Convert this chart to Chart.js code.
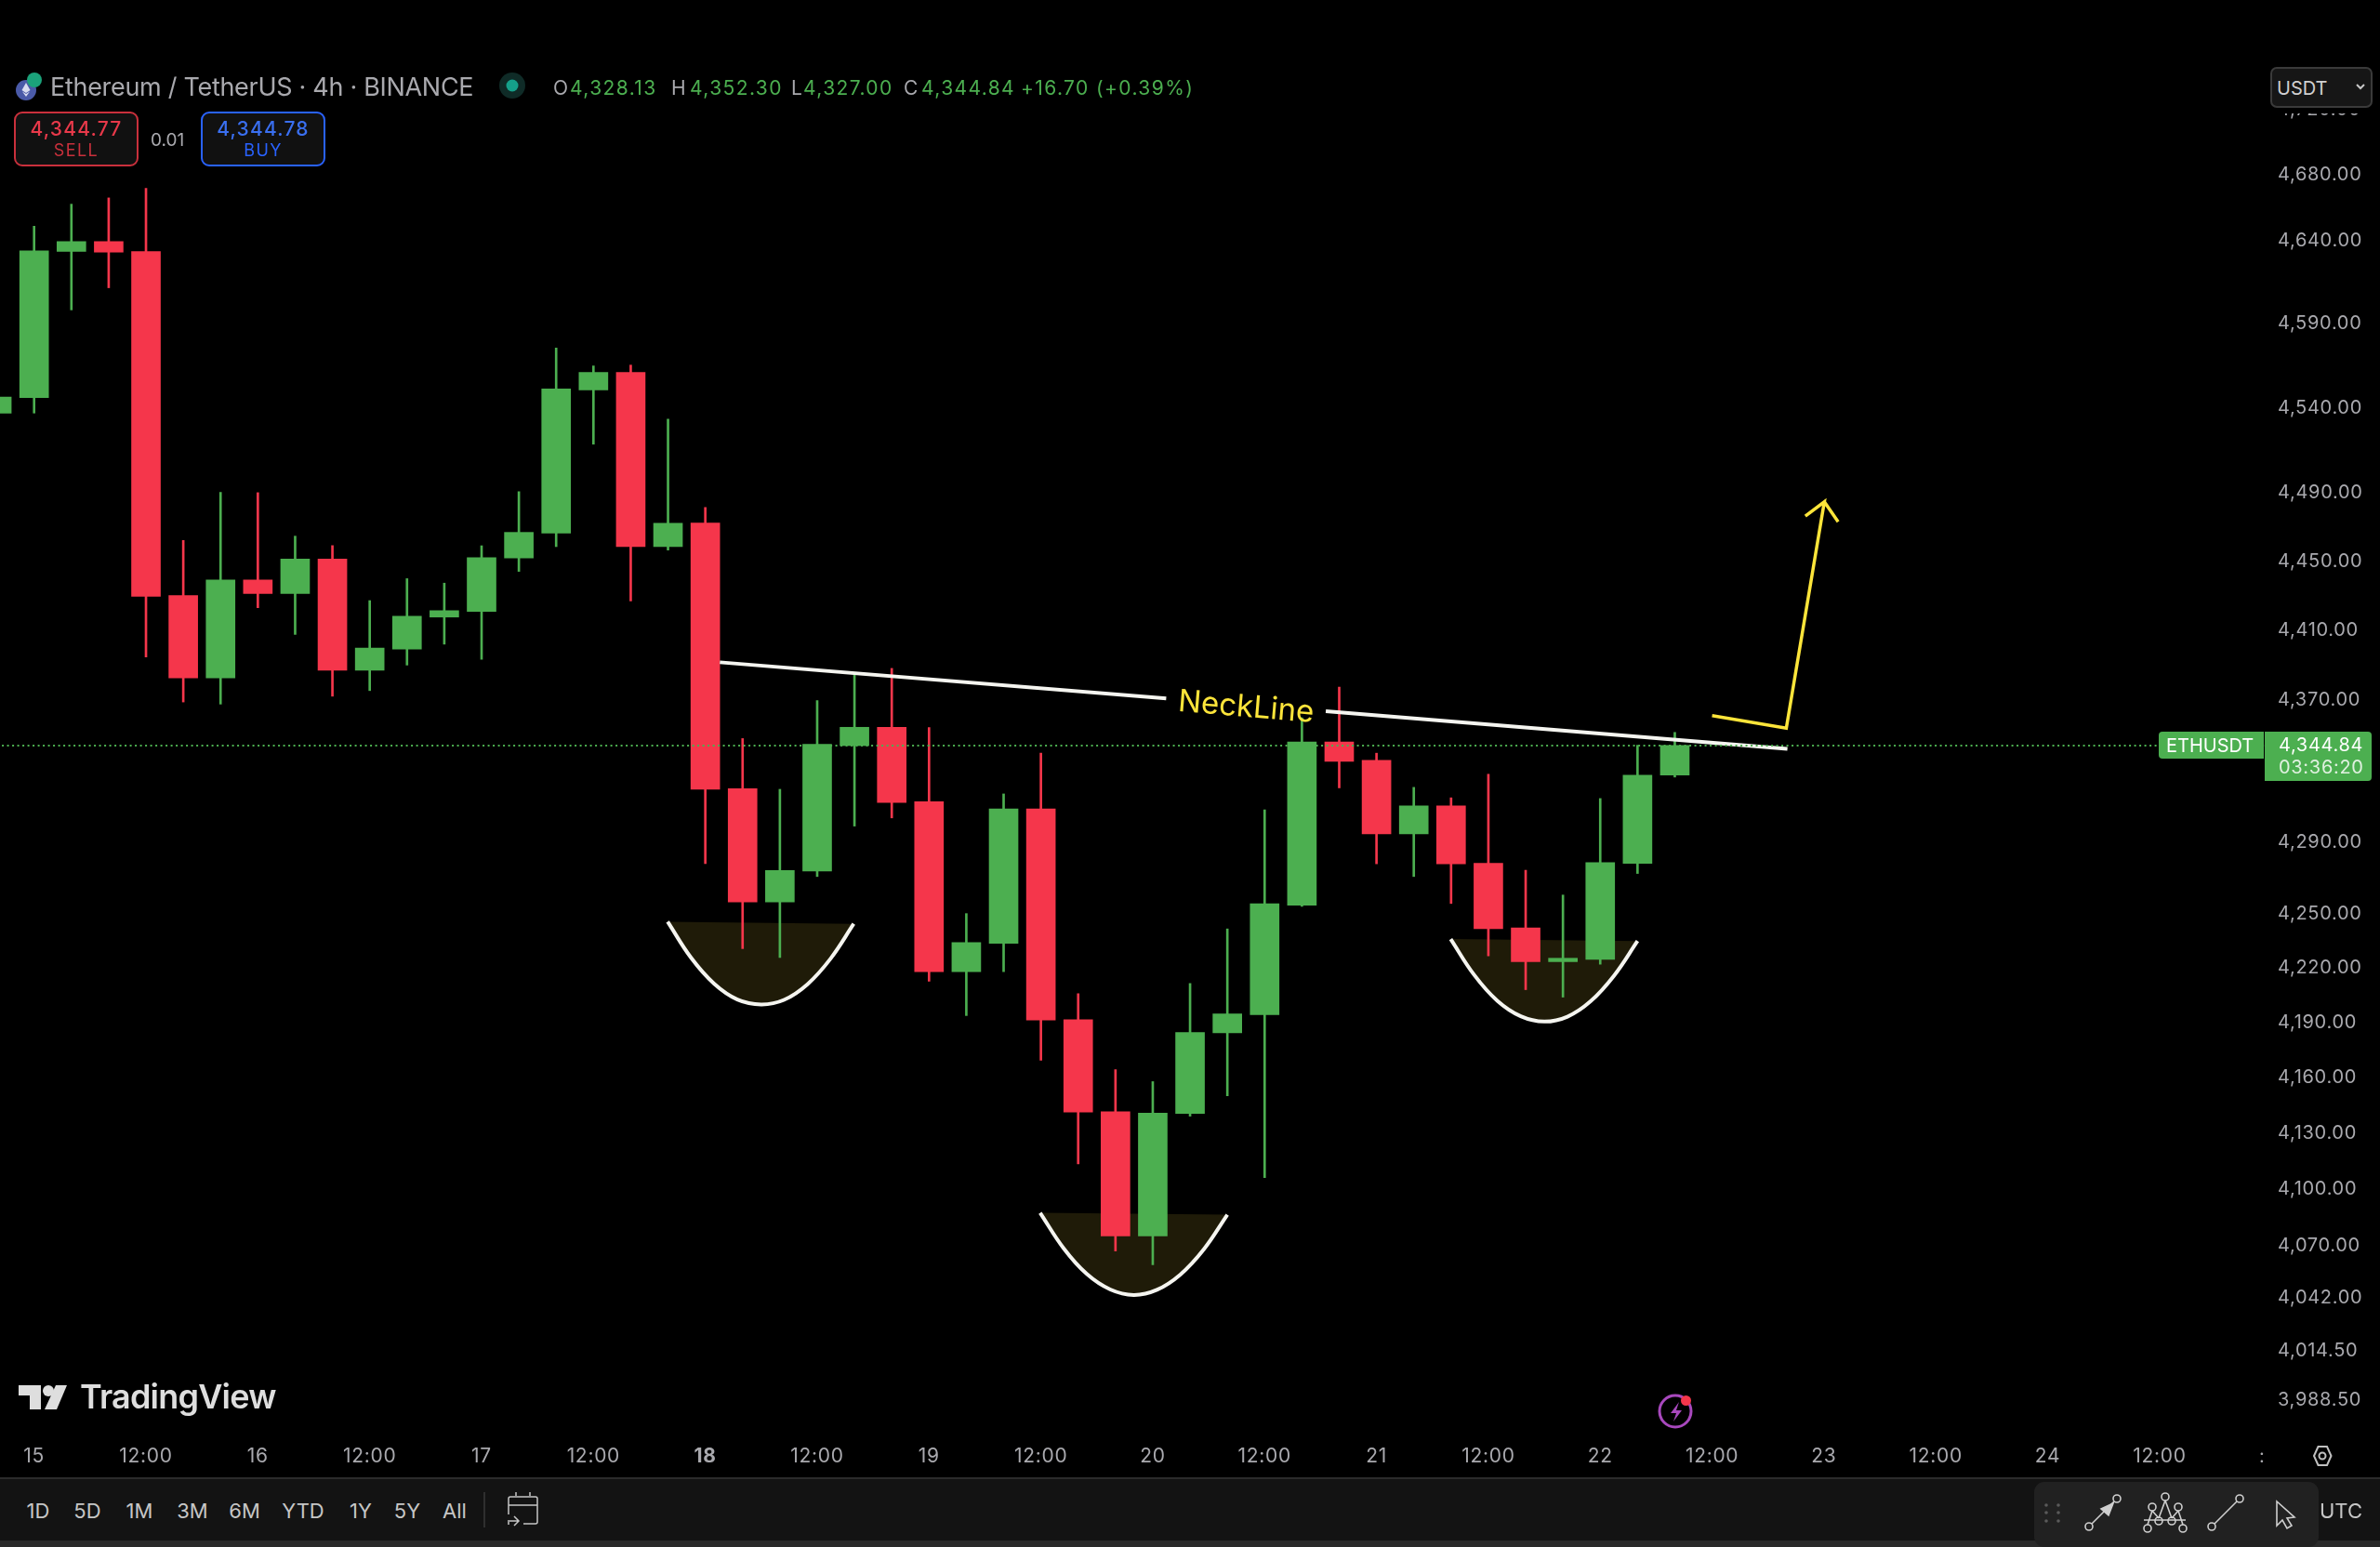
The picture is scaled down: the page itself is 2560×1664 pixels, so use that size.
<!DOCTYPE html>
<html>
<head>
<meta charset="utf-8">
<title>ETHUSDT 4h</title>
<script src="https://cdn.jsdelivr.net/npm/chart.js@4/dist/chart.umd.min.js"></script>
<style>
    html, body { margin: 0; padding: 0; background: #000; }
    #page { position: relative; width: 2560px; height: 1664px; overflow: hidden; font-family: Inter, sans-serif; }
    #chart { position: absolute; left: 0; top: 0; }
    .t { position: absolute; white-space: nowrap; line-height: 1; }
    .gr { color: #4caf50; letter-spacing: 1.4px; }
    .gy { color: #a9a9ae; }
    .box { position: absolute; box-sizing: border-box; }
    .range { position: absolute; top: 1614px; font-size: 22px; color: #c6c6c6; transform: translateX(-50%); line-height: 1; }
    #icons { position: absolute; left: 0; top: 0; }
</style>
</head>
<body>
<div id="page">
    <canvas id="chart" width="2560" height="1589"></canvas>

    <!-- header -->
    <div class="t gy" style="left:54px;top:80px;font-size:27px;letter-spacing:-0.3px">Ethereum / TetherUS · 4h · BINANCE</div>
    <div class="t gy" style="left:595px;top:84px;font-size:21px">O</div>
    <div class="t gr" style="left:613px;top:84px;font-size:21px">4,328.13</div>
    <div class="t gy" style="left:722px;top:84px;font-size:21px">H</div>
    <div class="t gr" style="left:742px;top:84px;font-size:21px">4,352.30</div>
    <div class="t gy" style="left:851px;top:84px;font-size:21px">L</div>
    <div class="t gr" style="left:864px;top:84px;font-size:21px">4,327.00</div>
    <div class="t gy" style="left:972px;top:84px;font-size:21px">C</div>
    <div class="t gr" style="left:991px;top:84px;font-size:21px">4,344.84</div>
    <div class="t gr" style="left:1098px;top:84px;font-size:21px">+16.70 (+0.39%)</div>

    <!-- sell / buy -->
    <div class="box" style="left:15px;top:120px;width:134px;height:59px;border:2px solid #c9303c;border-radius:9px;background:#111"></div>
    <div class="t" style="left:15px;width:134px;text-align:center;top:128px;font-size:21px;font-weight:500;letter-spacing:1.2px;color:#e8394a">4,344.77</div>
    <div class="t" style="left:15px;width:134px;text-align:center;top:153px;font-size:18px;letter-spacing:1.4px;color:#c9303c">SELL</div>
    <div class="t gy" style="left:162px;top:141px;font-size:19px">0.01</div>
    <div class="box" style="left:216px;top:120px;width:134px;height:59px;border:2px solid #2962ff;border-radius:9px;background:#111"></div>
    <div class="t" style="left:216px;width:134px;text-align:center;top:128px;font-size:21px;font-weight:500;letter-spacing:1.2px;color:#3a6ff0">4,344.78</div>
    <div class="t" style="left:216px;width:134px;text-align:center;top:153px;font-size:18px;letter-spacing:1.4px;color:#2962ff">BUY</div>

    <!-- currency -->
    <div class="box" style="left:2441px;top:60px;width:119px;height:62px;background:#000"></div>
    <div class="box" style="left:2442px;top:72px;width:110px;height:44px;background:#161616;border:2px solid #3a3a3a;border-radius:7px"></div>
    <div class="t" style="left:2449px;top:85px;font-size:20px;color:#d0d0d0">USDT</div>
    <svg style="position:absolute;left:2532px;top:88px" width="14" height="12" fill="none"><path d="M3 3l4 4 4-4" stroke="#c8c8c8" stroke-width="2"/></svg>

    <!-- last price labels -->
    <div class="box" style="left:2322px;top:787px;width:113px;height:29px;background:#4caf50;border-radius:4px 0 0 4px"></div>
    <div class="t" style="left:2330px;top:792px;font-size:20px;color:#fff">ETHUSDT</div>
    <div class="box" style="left:2436px;top:787px;width:115px;height:53px;background:#4caf50;border-radius:0 4px 4px 0"></div>
    <div class="t" style="left:2451px;top:791px;font-size:20px;letter-spacing:0.7px;color:#fff">4,344.84</div>
    <div class="t" style="left:2451px;top:815px;font-size:20px;letter-spacing:0.7px;color:#dff0df">03:36:20</div>

    <!-- logo, clipped time label -->
    <div class="t" style="left:86px;top:1484px;font-size:36px;font-weight:600;letter-spacing:-0.8px;color:#dedede">TradingView</div>
    <div class="t gy" style="left:2430px;top:1556px;font-size:20px">:</div>

    <!-- bottom toolbar -->
    <div class="box" style="left:0;top:1589px;width:2560px;height:68px;background:#131313;border-top:2px solid #2b2b2b"></div>
    <div class="box" style="left:0;top:1657px;width:2560px;height:7px;background:#2a2a2a"></div>
    <div class="box" style="left:2188px;top:1594px;width:306px;height:70px;background:#212121;border-radius:11px"></div>
    <div class="range" style="left:41px">1D</div>
    <div class="range" style="left:94px">5D</div>
    <div class="range" style="left:150px">1M</div>
    <div class="range" style="left:207px">3M</div>
    <div class="range" style="left:263px">6M</div>
    <div class="range" style="left:326px">YTD</div>
    <div class="range" style="left:388px">1Y</div>
    <div class="range" style="left:438px">5Y</div>
    <div class="range" style="left:489px">All</div>
    <div class="t" style="left:2495px;top:1614px;font-size:22px;color:#c6c6c6">UTC</div>

    <svg id="icons" width="2560" height="1664" fill="none">
        <!-- symbol logo -->
        <circle cx="28" cy="97" r="11" fill="#4a5aa8"/>
        <path d="M28 89l-4.500 8 4.500 3 4.500-3zM28 101l-4-2.500 4 5.500 4-5.500z" fill="#d8dcf0"/>
        <circle cx="37" cy="86" r="8" fill="#1ba27a"/>
        <!-- status dot -->
        <circle cx="551" cy="92" r="14" fill="#0f2b27"/>
        <circle cx="551" cy="92" r="6.500" fill="#15a08a"/>
        <!-- tv logo -->
        <path d="M20 1490h24v26h-12v-15h-12z" fill="#dedede"/>
        <circle cx="52" cy="1496" r="6" fill="#dedede"/>
        <path d="M60 1490h12l-11 26h-13z" fill="#dedede"/>
        <!-- lightning badge -->
        <circle cx="1802" cy="1518" r="17" stroke="#a848bd" stroke-width="3"/>
        <path d="M1806 1508l-9 12h6l-3 9 9-12h-6z" fill="#a848bd"/>
        <circle cx="1813.500" cy="1506.500" r="5.500" fill="#f5364b"/>
        <!-- settings -->
        <path d="M2489 1566l4.500-10h9.500l4.500 10-4.500 10h-9.500z" stroke="#c0c0c0" stroke-width="2"/>
        <circle cx="2498" cy="1566" r="3.500" stroke="#c0c0c0" stroke-width="2"/>
        <!-- range divider and calendar -->
        <path d="M521 1605v38" stroke="#3a3a3a" stroke-width="1.500"/>
        <path d="M547 1640v-3M547 1629v-17a2 2 0 0 1 2-2h27a2 2 0 0 1 2 2v25a2 2 0 0 1-2 2h-13M547 1619h31M555 1609v-4M570 1609v-4M546 1636h12M553 1631l5 5-5 5" stroke="#c6c6c6" stroke-width="1.500"/>
        <!-- drawing tools -->
        <g fill="#5a5a5a">
            <circle cx="2201" cy="1619" r="1.800"/><circle cx="2214" cy="1619" r="1.800"/>
            <circle cx="2201" cy="1627" r="1.800"/><circle cx="2214" cy="1627" r="1.800"/>
            <circle cx="2201" cy="1636" r="1.800"/><circle cx="2214" cy="1636" r="1.800"/>
        </g>
        <g stroke="#cfcfcf" stroke-width="1.600">
            <circle cx="2247" cy="1642" r="4"/><circle cx="2277" cy="1612" r="4"/>
            <path d="M2250 1639l24-24"/>
            <path d="M2273 1617l-13 6 8 7z" fill="#cfcfcf"/>
            <path d="M2306 1635h45M2310 1640l5-15M2315 1625l7 8M2322 1633l7-19M2329 1614l7 19M2336 1633l7-8M2343 1625l5 15"/>
            <circle cx="2310" cy="1644" r="4"/><circle cx="2315" cy="1621" r="4"/><circle cx="2322" cy="1636" r="4"/>
            <circle cx="2329" cy="1610" r="4"/><circle cx="2336" cy="1636" r="4"/><circle cx="2343" cy="1621" r="4"/><circle cx="2348" cy="1644" r="4"/>
            <circle cx="2379" cy="1642" r="4"/><circle cx="2409" cy="1612" r="4"/>
            <path d="M2382 1639l24-24"/>
            <path d="M2449 1615v26l6-6 5 9 5-3-5-8 8-1z"/>
        </g>
    </svg>
</div>

<script>
// candle index of the first value below is -1, index 0 is the "15" tick
const firstCandle = -1;
const opens = [4537.5, 4546.6, 4634.2, 4640.2, 4634.2, 4430.7, 4383.4, 4439.7, 4431.9, 4451.9, 4387.7, 4399.9, 4418.3, 4421.6, 4452.5, 4467.0, 4551.2, 4561.7, 4459.1, 4472.8, 4320.5, 4257.0, 4274.2, 4344.8, 4355.2, 4313.1, 4218.5, 4234.1, 4309.0, 4192.1, 4142.1, 4075.5, 4141.1, 4185.0, 4194.9, 4255.3, 4346.9, 4336.4, 4295.0, 4310.8, 4278.6, 4242.6, 4224.0, 4225.3, 4278.6, 4328.13];
const highs = [4547.0, 4649.5, 4662.9, 4666.7, 4672.6, 4462.7, 4490.8, 4490.6, 4465.2, 4459.7, 4427.8, 4440.5, 4437.9, 4459.6, 4491.2, 4576.2, 4565.5, 4566.0, 4533.9, 4482.0, 4348.8, 4320.1, 4370.4, 4385.2, 4388.8, 4355.1, 4250.6, 4317.5, 4340.6, 4206.4, 4164.9, 4158.4, 4212.0, 4242.1, 4308.6, 4360.6, 4378.1, 4340.5, 4321.2, 4315.3, 4328.6, 4274.7, 4260.9, 4314.9, 4345.0, 4352.30];
const lows = [4537.5, 4537.5, 4599.0, 4612.3, 4395.4, 4369.6, 4368.4, 4423.7, 4408.3, 4372.9, 4376.1, 4390.7, 4402.7, 4394.0, 4444.7, 4459.1, 4519.1, 4427.6, 4457.1, 4278.4, 4231.2, 4226.3, 4271.2, 4299.4, 4304.0, 4213.2, 4194.4, 4218.5, 4170.0, 4114.0, 4067.5, 4060.2, 4139.7, 4150.7, 4106.6, 4254.6, 4320.9, 4278.3, 4271.2, 4256.2, 4227.2, 4208.6, 4204.5, 4222.6, 4272.9, 4327.00];
const closes = [4547.0, 4634.6, 4640.2, 4633.8, 4430.3, 4383.4, 4439.7, 4431.9, 4451.9, 4387.7, 4400.5, 4418.8, 4422.0, 4452.7, 4467.4, 4551.8, 4561.7, 4459.1, 4472.7, 4320.1, 4257.0, 4274.6, 4345.6, 4355.2, 4312.7, 4218.5, 4234.6, 4309.0, 4192.0, 4141.9, 4075.5, 4141.3, 4185.2, 4195.3, 4256.1, 4346.9, 4335.9, 4295.0, 4310.8, 4278.3, 4242.2, 4224.0, 4225.9, 4279.0, 4328.1, 4344.84];

const priceTicks = [4720, 4680, 4640, 4590, 4540, 4490, 4450, 4410, 4370, 4290, 4250, 4220, 4190, 4160, 4130, 4100, 4070, 4042, 4014.5, 3988.5];
const timeLabels = ['15', '12:00', '16', '12:00', '17', '12:00', '18', '12:00', '19', '12:00', '20', '12:00', '21', '12:00', '22', '12:00', '23', '12:00', '24', '12:00'];
const lastPrice = 4344.84;

// drawn annotations, x in candle index, y in price
const neckX = [18.39, 30.36, null, 34.64, 47.02];
const neckY = [4392.3, 4371.6, null, 4364.3, 4342.9];
const arrowX = [45.00, 46.99, 48.01, 47.50, 48.01, 48.38];
const arrowY = [4361.8, 4354.7, 4485.2, 4476.9, 4485.2, 4473.6];
const bowl1X = [16.99, 17.62, 18.24, 18.86, 19.50, 20.11, 20.74, 21.36, 21.98];
const bowl1Y = [4246.1, 4226.1, 4211.8, 4203.2, 4200.5, 4203.0, 4211.6, 4225.7, 4244.9];
const bowl2X = [26.98, 27.61, 28.23, 28.86, 29.49, 30.11, 30.74, 31.37, 32.00];
const bowl2Y = [4087.8, 4068.9, 4055.3, 4047.1, 4044.2, 4046.9, 4055.0, 4068.4, 4086.8];
const bowl3X = [37.99, 38.62, 39.24, 39.87, 40.50, 41.12, 41.74, 42.37, 43.00];
const bowl3Y = [4236.5, 4216.7, 4202.5, 4194.0, 4191.1, 4193.8, 4202.2, 4216.3, 4235.4];
const neckText = 'NeckLine';
const neckTextAt = [32.5, 4366.5];

const GREEN = '#4caf50';
const RED = '#f5364b';
const WHITE = '#f5f5f0';
const YELLOW = '#fde53a';

function toPoints(xs, ys) {
    return xs.map((x, i) => ({ x: x, y: ys[i] }));
}

function bowl(xs, ys) {
    return {
        type: 'line',
        data: toPoints(xs, ys),
        borderColor: WHITE,
        borderWidth: 4,
        backgroundColor: '#1f1b08',
        fill: 'shape',
        tension: 0.4,
        pointRadius: 0,
        order: 5
    };
}

const candleColors = closes.map((c, i) => c >= opens[i] ? GREEN : RED);

// drop the half label margins so the plot fills the canvas edge to edge
function noMargins(scale) {
    scale.paddingTop = 0;
    scale.paddingBottom = 0;
    scale.paddingLeft = 0;
    scale.paddingRight = 0;
}

// axis labels in the original are a bit wider than Inter
const axisSpacing = {
    id: 'axisSpacing',
    beforeDraw(chart) {
        chart.ctx.letterSpacing = '0.7px';
    }
};

// NeckLine caption sits on the gap of the line
const neckLabel = {
    id: 'neckLabel',
    afterDatasetsDraw(chart) {
        const ctx = chart.ctx;
        ctx.save();
        ctx.letterSpacing = '0px';
        ctx.translate(chart.scales.x.getPixelForValue(neckTextAt[0]), chart.scales.y.getPixelForValue(neckTextAt[1]));
        ctx.rotate(4.7 * Math.PI / 180);
        ctx.font = '33px Inter';
        ctx.fillStyle = YELLOW;
        ctx.textAlign = 'center';
        ctx.textBaseline = 'middle';
        ctx.fillText(neckText, 0, 0);
        ctx.restore();
    }
};

new Chart(document.getElementById('chart'), {
    type: 'bar',
    data: {
        datasets: [
            bowl(bowl1X, bowl1Y),
            bowl(bowl2X, bowl2Y),
            bowl(bowl3X, bowl3Y),
            {
                data: highs.map((h, i) => ({ x: i + firstCandle, y: [lows[i], h] })),
                backgroundColor: candleColors,
                barThickness: 2,
                grouped: false,
                order: 4
            },
            {
                data: closes.map((c, i) => ({ x: i + firstCandle, y: [opens[i], c] })),
                backgroundColor: candleColors,
                barThickness: 31,
                grouped: false,
                order: 3
            },
            {
                type: 'line',
                data: toPoints(neckX, neckY),
                borderColor: WHITE,
                borderWidth: 4,
                pointRadius: 0,
                spanGaps: false,
                order: 2
            },
            {
                type: 'line',
                data: toPoints(arrowX, arrowY),
                borderColor: YELLOW,
                borderWidth: 3.5,
                pointRadius: 0,
                order: 2
            },
            {
                type: 'line',
                data: toPoints([-1, 60], [lastPrice, lastPrice]),
                borderColor: GREEN,
                borderWidth: 2,
                borderDash: [2, 3.5],
                pointRadius: 0,
                order: 1
            }
        ]
    },
    options: {
        responsive: false,
        animation: false,
        events: [],
        layout: { autoPadding: false, padding: 0 },
        plugins: { legend: { display: false }, tooltip: { enabled: false } },
        scales: {
            x: {
                type: 'linear',
                offset: false,
                min: -0.915,
                max: 59.92,
                grid: { display: false },
                border: { display: false },
                afterBuildTicks: scale => {
                    scale.ticks = timeLabels.map((l, i) => ({ value: i * 3 }));
                },
                afterFit: scale => { scale.height = 54; noMargins(scale); },
                ticks: {
                    autoSkip: false,
                    maxRotation: 0,
                    padding: 11,
                    color: '#a9a9ae',
                    font: ctx => ({ family: 'Inter', size: 21, weight: timeLabels[ctx.index] === '18' ? 'bold' : 'normal' }),
                    callback: (v, i) => timeLabels[i]
                }
            },
            y: {
                type: 'logarithmic',
                position: 'right',
                min: 3975.1,
                max: 4788.8,
                grid: { display: false },
                border: { display: false },
                afterBuildTicks: scale => {
                    scale.ticks = priceTicks.map(v => ({ value: v }));
                },
                afterFit: scale => { scale.width = 120; noMargins(scale); },
                ticks: {
                    autoSkip: false,
                    padding: 2,
                    labelOffset: -1,
                    color: '#a9a9ae',
                    font: { family: 'Inter', size: 20 },
                    callback: v => v.toLocaleString('en-US', { minimumFractionDigits: 2, maximumFractionDigits: 2 })
                }
            }
        }
    },
    plugins: [axisSpacing, neckLabel]
});
</script>
</body>
</html>
